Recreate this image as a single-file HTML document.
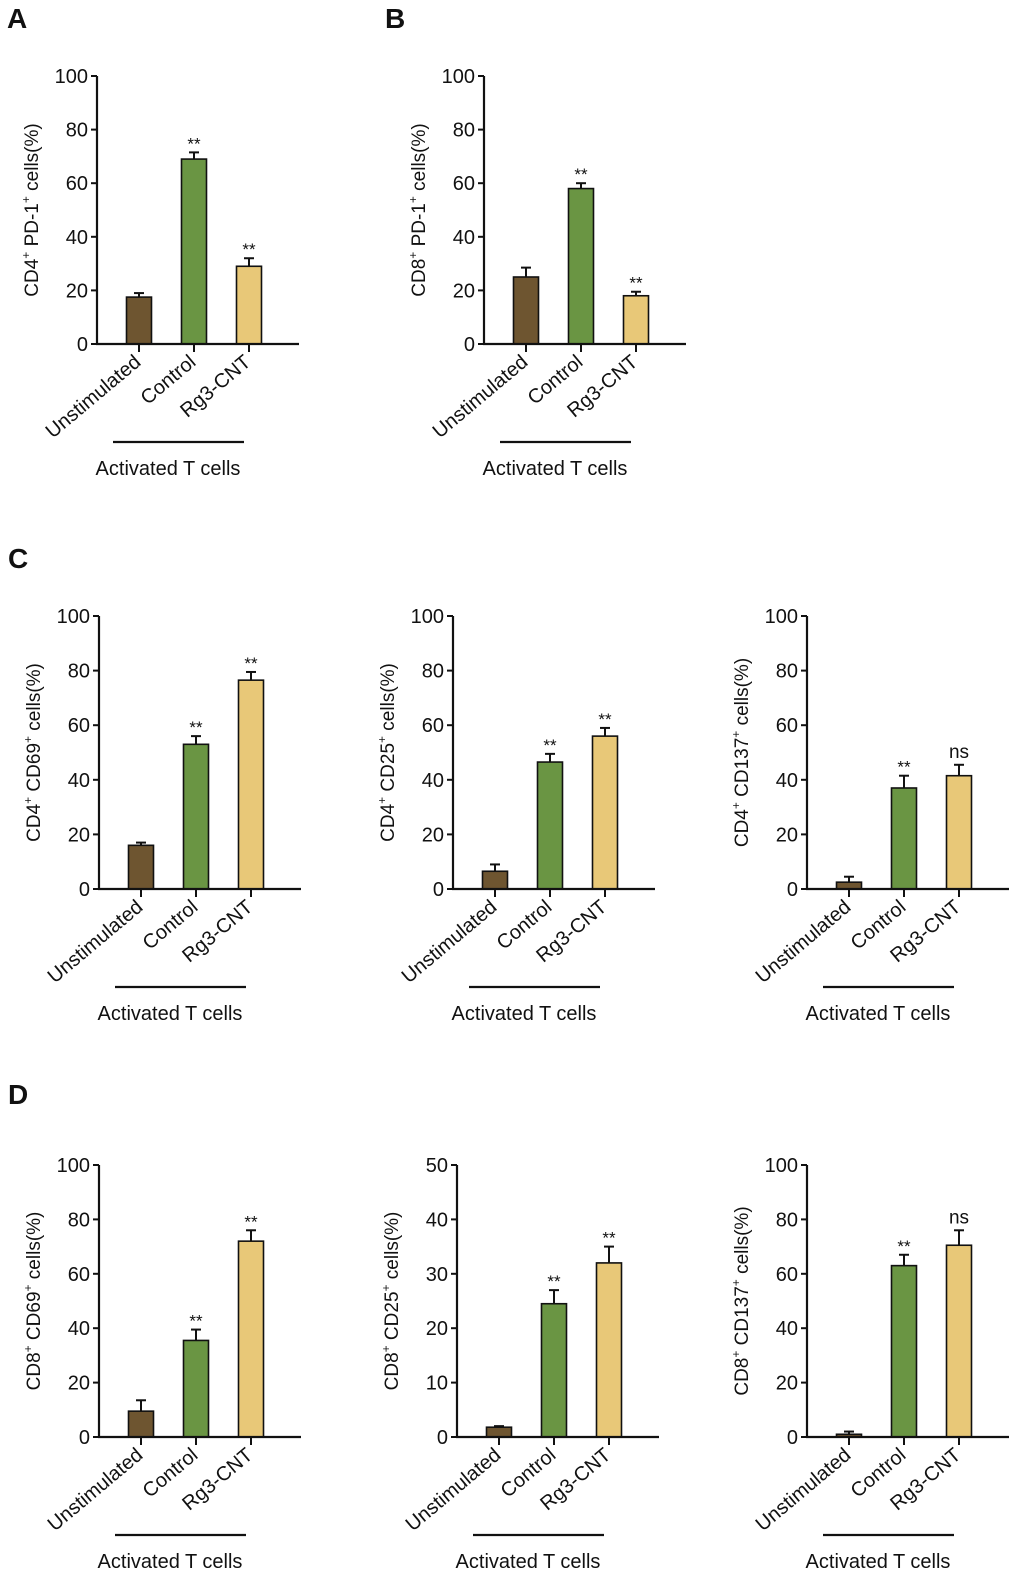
<!DOCTYPE html>
<html><head><meta charset="utf-8"><style>
body{margin:0;background:#fff}
svg{display:block;font-family:"Liberation Sans",Arial,sans-serif}
</style></head><body>
<svg id="fig" width="1020" height="1579" viewBox="0 0 1020 1579"></svg>
<script>
const categories = ["Unstimulated","Control","Rg3-CNT"];
const colors = ["#6e5530","#6a9543","#e8c878"];
const panelTitles = ["CD4|PD-1","CD8|PD-1","CD4|CD69","CD4|CD25","CD4|CD137","CD8|CD69","CD8|CD25","CD8|CD137"];
const maxVals = [100,100,100,100,100,100,50,100];
const meansA = [17.5,69,29];   const errA = [1.5,2.5,3];
const meansB = [25,58,18];     const errB = [3.5,2,1.5];
const meansC1 = [16,53,76.5];  const errC1 = [1,3,3];
const meansC2 = [6.5,46.5,56]; const errC2 = [2.5,3,3];
const meansC3 = [2.5,37,41.5]; const errC3 = [2,4.5,4];
const meansD1 = [9.5,35.5,72]; const errD1 = [4,4,4];
const meansD2 = [1.8,24.5,32]; const errD2 = [0.2,2.5,3];
const meansD3 = [1,63,70.5];   const errD3 = [1,4,5.5];
const sigA = ["","**","**"], sigB = ["","**","**"], sigC1 = ["","**","**"], sigC2 = ["","**","**"], sigC3 = ["","**","ns"];
const sigD1 = ["","**","**"], sigD2 = ["","**","**"], sigD3 = ["","**","ns"];

const svg = document.getElementById('fig');
const NS = "http://www.w3.org/2000/svg";
function mk(tag, attrs, parent){const e=document.createElementNS(NS,tag);for(const k in attrs)e.setAttribute(k,attrs[k]);(parent||svg).appendChild(e);return e;}

const panels = [
 {ox:97, oy:344, h:268, m:meansA, e:errA, s:sigA, id:"a"},
 {ox:484,oy:344, h:268, m:meansB, e:errB, s:sigB, id:"b"},
 {ox:99, oy:889, h:273, m:meansC1,e:errC1,s:sigC1,id:"c1"},
 {ox:453,oy:889, h:273, m:meansC2,e:errC2,s:sigC2,id:"c2"},
 {ox:807,oy:889, h:273, m:meansC3,e:errC3,s:sigC3,id:"c3"},
 {ox:99, oy:1437,h:272, m:meansD1,e:errD1,s:sigD1,id:"d1"},
 {ox:457,oy:1437,h:272, m:meansD2,e:errD2,s:sigD2,id:"d2"},
 {ox:807,oy:1437,h:272, m:meansD3,e:errD3,s:sigD3,id:"d3"}
];
const barOff=[42,97,152];

panels.forEach((p,pi)=>{
  const g=mk('g',{});
  
  
  const max=maxVals[pi];
  const y=v=>p.oy - v/max*p.h;
  const x=i=>p.ox+barOff[i];
  p.m.forEach((v,i)=>{
    const bw=25, top=y(v), et=y(v+p.e[i]);
    const eb=mk('line',{x1:x(i),x2:x(i),y1:top,y2:et,stroke:'#111','stroke-width':2},g);
    
    
    mk('line',{x1:x(i)-5,x2:x(i)+5,y1:et,y2:et,stroke:'#111','stroke-width':2},g);
    const r=mk('rect',{x:x(i)-bw/2,y:top,width:bw,height:p.oy-top,fill:colors[i],stroke:'#111','stroke-width':1.6},g);
    
    
    if(p.s[i]){
      const t=mk('text',{x:x(i),y:et-(p.s[i]==='ns'?7:3),'text-anchor':'middle','font-size':p.s[i]==='ns'?19:17,fill:'#111'},g);
      t.textContent=p.s[i];
      
      
    }
  });
  const ya=mk('line',{x1:p.ox,x2:p.ox,y1:p.oy-p.h,y2:p.oy+1,stroke:'#111','stroke-width':2.2},g);
  
  
  const xa=mk('line',{x1:p.ox-1,x2:p.ox+202,y1:p.oy,y2:p.oy,stroke:'#111','stroke-width':2.2},g);
  
  
  for(let k=0;k<=5;k++){
    const v=max*k/5, yy=y(v);
    mk('line',{x1:p.ox-6,x2:p.ox,y1:yy,y2:yy,stroke:'#111','stroke-width':2},g);
    const t=mk('text',{x:p.ox-9,y:yy+7,'text-anchor':'end','font-size':20,fill:'#111'},g);
    t.textContent=v;
    
    
  }
  categories.forEach((c,i)=>{
    mk('line',{x1:x(i),x2:x(i),y1:p.oy,y2:p.oy+8,stroke:'#111','stroke-width':2},g);
    const t=mk('text',{x:x(i)+3,y:p.oy+20,'text-anchor':'end','font-size':20,fill:'#111',transform:`rotate(-40 ${x(i)+3} ${p.oy+20})`},g);
    t.textContent=c;
    
    
  });
  const [a,b]=panelTitles[pi].split('|');
  const cx=p.ox-59, cy=p.oy-p.h/2;
  const tt=mk('text',{x:cx,y:cy,'text-anchor':'middle','font-size':19,fill:'#111',transform:`rotate(-90 ${cx} ${cy})`},g);
  
  
  tt.innerHTML=`${a}<tspan font-size="12" dy="-8">+</tspan><tspan dy="8"> ${b}</tspan><tspan font-size="12" dy="-8">+</tspan><tspan dy="8"> cells(%)</tspan>`;
  const ul=mk('line',{x1:p.ox+16,x2:p.ox+147,y1:p.oy+98,y2:p.oy+98,stroke:'#111','stroke-width':2.2},g);
  
  
  const gl=mk('text',{x:p.ox+71,y:p.oy+131,'text-anchor':'middle','font-size':20,fill:'#111'},g);
  gl.textContent='Activated T cells';
  
  
});
[["A",7,28],["B",385,28],["C",8,568],["D",8,1104]].forEach(([l,xx,yy])=>{
  const t=mk('text',{x:xx,y:yy,'font-size':28,'font-weight':'bold',fill:'#111'});
  t.textContent=l;
  
  
});
</script>
</body></html>
